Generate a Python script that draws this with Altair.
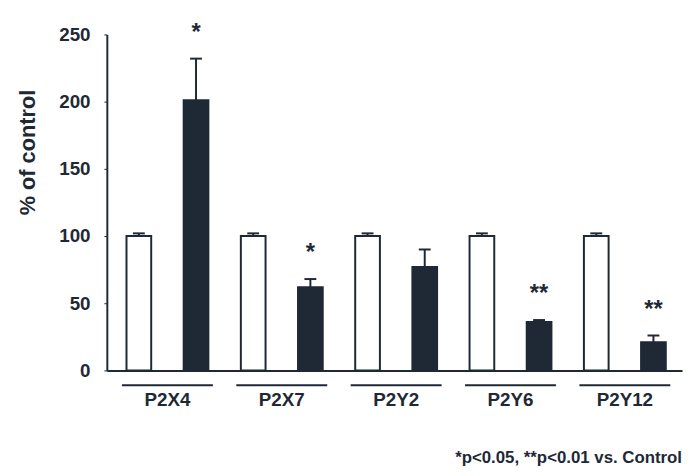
import altair as alt
import pandas as pd

groups = ["P2X4", "P2X7", "P2Y2", "P2Y6", "P2Y12"]
control_mean = [100, 100, 100, 100, 100]
control_err = [2, 2, 2, 2, 2]
treated_mean = [201, 62, 77, 36, 21]
treated_err = [31, 6, 13, 1.5, 5]
treated_marks = ["*", "*", "", "**", "**"]
y_ticks = [0, 50, 100, 150, 200, 250]
footnote = "*p<0.05, **p<0.01 vs. Control"

rows = []
for i, g in enumerate(groups):
    rows.append({"group": g, "cond": "Control", "mean": control_mean[i],
                 "top": control_mean[i] + control_err[i], "mark": ""})
    rows.append({"group": g, "cond": "Treated", "mean": treated_mean[i],
                 "top": treated_mean[i] + treated_err[i], "mark": treated_marks[i]})
df = pd.DataFrame(rows)

INK = "#1e2935"
FONT = "Liberation Sans"

x_scale = alt.Scale(paddingInner=0, paddingOuter=0.015, align=1)
x_enc = alt.X("group:N", sort=groups, title=None, scale=x_scale,
              axis=alt.Axis(labelFontSize=19, labelFontWeight="bold", labelColor=INK,
                            labelFont=FONT, labelAngle=0, ticks=False, labelPadding=20,
                            domainColor=INK, domainWidth=2))
xo_enc = alt.XOffset("cond:N", sort=["Control", "Treated"],
                     scale=alt.Scale(paddingInner=0, paddingOuter=0))
y_scale = alt.Scale(domain=[0, 250], nice=False)

bars = alt.Chart(df).mark_bar(width=25, stroke=INK, strokeWidth=2).encode(
    x=x_enc,
    xOffset=xo_enc,
    y=alt.Y("mean:Q", scale=y_scale, title="% of control",
            axis=alt.Axis(values=y_ticks, grid=False, labelFontSize=19,
                          labelFontWeight="bold", labelColor=INK, labelFont=FONT,
                          labelPadding=14, tickSize=3, tickColor=INK, domainColor=INK,
                          domainWidth=2, titleFontSize=22, titleFontWeight="bold",
                          titleColor=INK, titleFont=FONT, titleX=-68, titleY=119)),
    fill=alt.Fill("cond:N", scale=alt.Scale(domain=["Control", "Treated"],
                                            range=["white", INK]), legend=None),
)

err = alt.Chart(df).mark_rule(color=INK, strokeWidth=2).encode(
    x=alt.X("group:N", sort=groups), xOffset=xo_enc,
    y=alt.Y("mean:Q", scale=y_scale), y2="top:Q")

caps = alt.Chart(df).mark_tick(color=INK, thickness=2, size=12, orient="horizontal",
                               opacity=1).encode(
    x=alt.X("group:N", sort=groups), xOffset=xo_enc,
    y=alt.Y("top:Q", scale=y_scale))

stars = alt.Chart(df).mark_text(color=INK, fontSize=24, fontWeight="bold", font=FONT,
                                baseline="middle", dy=-26).encode(
    x=alt.X("group:N", sort=groups), xOffset=xo_enc,
    y=alt.Y("top:Q", scale=y_scale), text="mark:N")

underline = alt.Chart(pd.DataFrame({"group": groups})).mark_tick(
    color=INK, thickness=2, size=92, orient="horizontal", opacity=1).encode(
    x=alt.X("group:N", sort=groups), y=alt.value(355))

chart = alt.layer(bars, err, caps, stars, underline).properties(
    width=582, height=340,
    autosize=alt.AutoSizeParams(type="none"),
    padding={"left": 100, "top": 24, "right": 2, "bottom": 100},
    title=alt.TitleParams(footnote, orient="bottom", anchor="end", fontSize=17,
                          fontWeight="bold", color=INK, font=FONT, offset=42),
).configure_view(stroke=None)

chart.save("out.html", embed_options={"renderer": "svg", "actions": False})
